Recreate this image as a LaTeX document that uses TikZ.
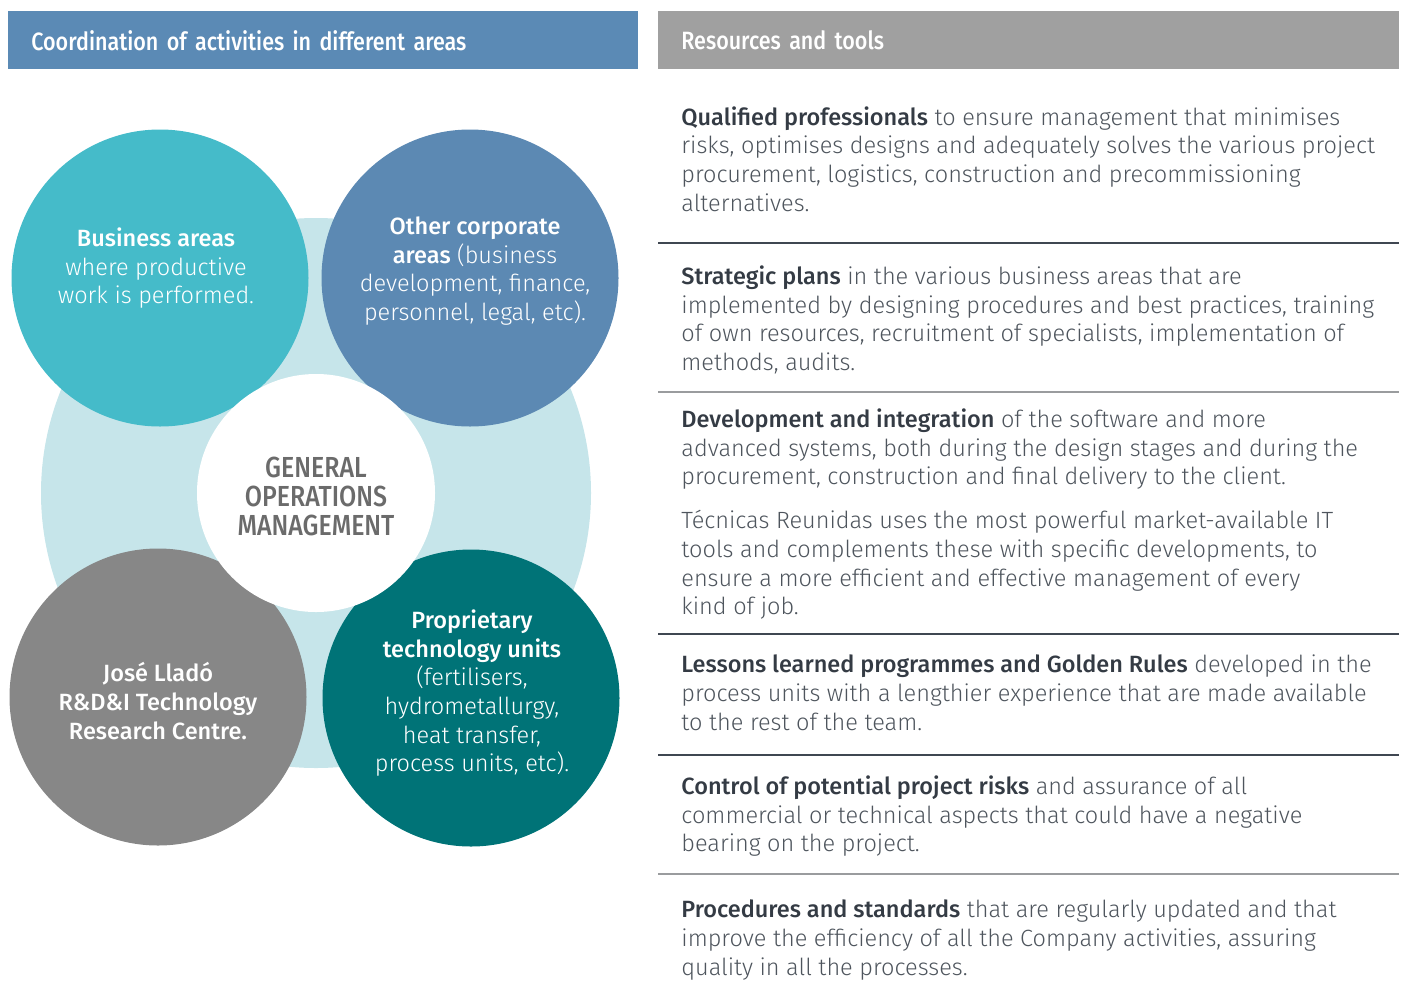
\documentclass[tikz,border=0pt]{standalone}
\usepackage{fontspec}
\usepackage{tikz}
\usetikzlibrary{positioning}
\setmainfont{Fira Sans}[UprightFont={* Light}, BoldFont={* Medium}]
\newfontfamily\headfont{Fira Sans}[UprightFont={* Medium}, FakeStretch=0.86, WordSpace=0.8]
\definecolor{hdrblue}{HTML}{5B8AB5}
\definecolor{hdrgray}{HTML}{A0A0A0}
\definecolor{ringblue}{HTML}{C6E5EA}
\definecolor{bizteal}{HTML}{45BBC9}
\definecolor{corpblue}{HTML}{5C89B3}
\definecolor{rdgray}{HTML}{878787}
\definecolor{techteal}{HTML}{007377}
\definecolor{gomgray}{HTML}{6B6B6B}
\definecolor{bodytext}{HTML}{4E555D}
\definecolor{leadtext}{HTML}{343B44}
\definecolor{ruledark}{HTML}{3F4751}
\definecolor{rulelight}{HTML}{9A9C9E}
\newcommand\lead[1]{\textbf{\color{leadtext}#1}}
\tikzset{hdrbar/.style = {anchor = north west, minimum height = 29pt, inner xsep = 11.5pt,
                          inner ysep = 0pt, text = white, align = left,
                          font = \headfont\fontsize{12.5}{13}\selectfont},
         bubble/.style = {circle, minimum size = 148.5pt, inner sep = 0pt},
         bubbletext/.style = {text = white, align = center, inner sep = 0pt,
                              font = \fontsize{11.75}{14.35}\selectfont,
                              execute at begin node = \strut, execute at end node = \strut},
         para/.style = {anchor = west, align = left, inner sep = 0pt, text = bodytext,
                        font = \fontsize{11.75}{14.35}\selectfont,
                        execute at begin node = \strut, execute at end node = \strut},
         sepdark/.style = {draw = ruledark, line width = 0.7pt},
         seplight/.style = {draw = rulelight, line width = 0.9pt}}
\begin{document}
\begin{tikzpicture}[x = 0.5pt, y = -0.5pt]
      \useasboundingbox (0, 0) rectangle (1407, 991);

      \node [hdrbar, fill = hdrblue, text width = 292pt] (coordhdr) at (8, 11)
            {Coordination of activities in different areas};
      \node [hdrbar, fill = hdrgray, text width = 347.5pt] (reshdr) at (658, 11)
            {Resources and tools};

      \node [circle, fill = ringblue, minimum size = 275pt, inner sep = 0pt] (ring) at (316, 493) {};
      \node [bubble, fill = bizteal] (biz) at (160, 278) {};
      \node [bubble, fill = corpblue] (corp) at (470, 278) {};
      \node [bubble, fill = rdgray] (rd) at (158, 697) {};
      \node [bubble, fill = techteal] (tech) at (471, 698) {};
      \node [circle, fill = white, minimum size = 119pt, inner sep = 0pt] (gom) at (316, 493) {};

      \node [bubbletext] (biztext) at (156, 270)
            {\textbf{Business areas}\\where productive\\work is performed.};
      \node [bubbletext] (corptext) at (475, 273)
            {\textbf{Other corporate}\\\textbf{areas} (business\\development, finance,\\personnel, legal, etc).};
      \node [bubbletext, font = \bfseries\fontsize{11.75}{14.35}\selectfont] (rdtext) at (158, 705)
            {José Lladó\\R\&D\&I Technology\\Research Centre.};
      \node [bubbletext] (techtext) at (472, 695)
            {\textbf{Proprietary}\\\textbf{technology units}\\(fertilisers,\\hydrometallurgy,\\heat transfer,\\process units, etc).};
      \node [bubbletext, text = gomgray, font = \headfont\fontsize{14.5}{14.5}\selectfont] (gomtext) at (316, 501)
            {GENERAL\\OPERATIONS\\MANAGEMENT};

      \node [para] (quali) at (681, 163)
            {\lead{Qualified professionals} to ensure management that minimises\\
             risks, optimises designs and adequately solves the various project\\
             procurement, logistics, construction and precommissioning\\
             alternatives.};
      \draw [sepdark] (658, 243) -- (1399, 243);
      \node [para] (plans) at (681, 322.5)
            {\lead{Strategic plans} in the various business areas that are\\
             implemented by designing procedures and best practices, training\\
             of own resources, recruitment of specialists, implementation of\\
             methods, audits.};
      \draw [seplight] (658, 392) -- (1399, 392);
      \node [para] (devel) at (681, 451)
            {\lead{Development and integration} of the software and more\\
             advanced systems, both during the design stages and during the\\
             procurement, construction and final delivery to the client.};
      \node [para] (ittools) at (681, 567)
            {Técnicas Reunidas uses the most powerful market-available IT\\
             tools and complements these with specific developments, to\\
             ensure a more efficient and effective management of every\\
             kind of job.};
      \draw [sepdark] (658, 634) -- (1399, 634);
      \node [para] (lessons) at (681, 697)
            {\lead{Lessons learned programmes and Golden Rules} developed in the\\
             process units with a lengthier experience that are made available\\
             to the rest of the team.};
      \draw [sepdark] (658, 755) -- (1399, 755);
      \node [para] (risks) at (681, 818)
            {\lead{Control of potential project risks} and assurance of all\\
             commercial or technical aspects that could have a negative\\
             bearing on the project.};
      \draw [seplight] (658, 874) -- (1399, 874);
      \node [para] (stds) at (681, 942)
            {\lead{Procedures and standards} that are regularly updated and that\\
             improve the efficiency of all the Company activities, assuring\\
             quality in all the processes.};
    \end{tikzpicture}
\end{document}
